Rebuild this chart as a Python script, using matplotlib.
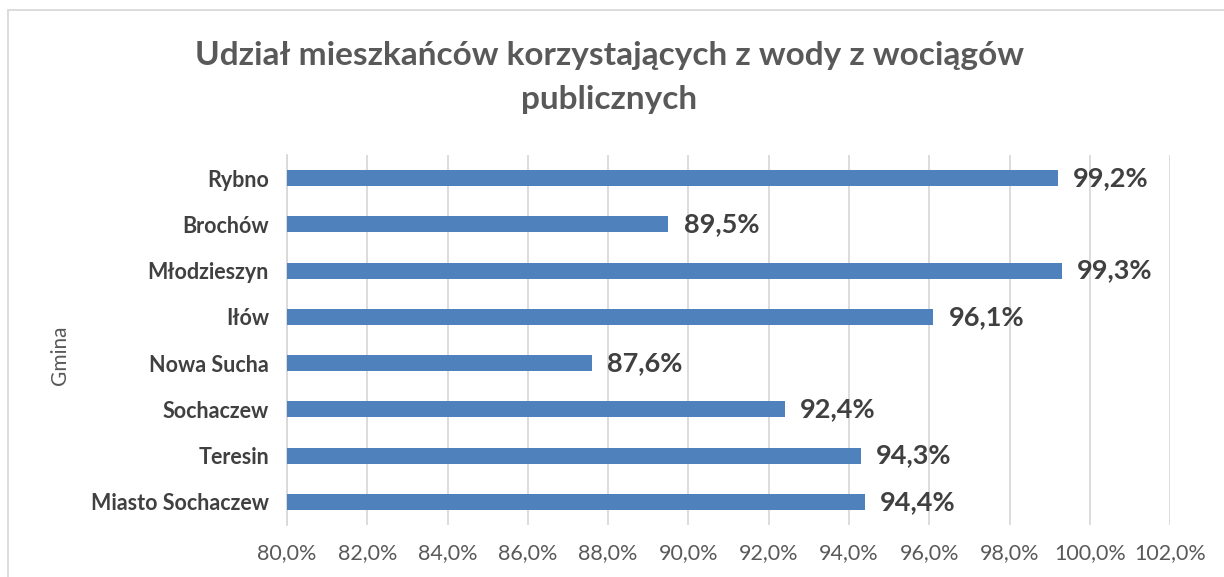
import matplotlib.pyplot as plt
from matplotlib.patches import Rectangle

plt.rcParams["font.family"] = ["Lato", "DejaVu Sans"]

gminy = ["Miasto Sochaczew", "Teresin", "Sochaczew", "Nowa Sucha",
         "Iłów", "Młodzieszyn", "Brochów", "Rybno"]
udzial = [94.4, 94.3, 92.4, 87.6, 96.1, 99.3, 89.5, 99.2]
xticks = [80, 82, 84, 86, 88, 90, 92, 94, 96, 98, 100, 102]

fig = plt.figure(figsize=(12.24, 5.77), dpi=100)
ax = fig.add_axes([0.2345, 0.0901, 0.7215, 0.6413])

pos = range(len(gminy))
ax.barh(pos, [v - 80 for v in udzial], left=80, height=0.35, color="#4F81BD", zorder=3)

for i, v in zip(pos, udzial):
    ax.text(v + 0.38, i, f"{v:.1f}%".replace(".", ","), va="center", ha="left",
            fontsize=19.5, fontweight="bold", color="#404040")

ax.set_xlim(80, 102)
ax.set_ylim(-0.5, len(gminy) - 0.5)
ax.set_xticks(xticks)
ax.set_xticklabels([f"{t:.1f}%".replace(".", ",") for t in xticks], fontsize=15.5, color="#595959")
ax.set_yticks(list(pos))
ax.set_yticklabels(gminy, fontsize=15.5, fontweight="bold", color="#404040")
ax.tick_params(length=0)
ax.tick_params(axis="y", pad=13)
ax.tick_params(axis="x", pad=13)
ax.grid(axis="x", color="#D9D9D9", linewidth=1.3, zorder=0)
for s in ["top", "right", "bottom"]:
    ax.spines[s].set_visible(False)
ax.spines["left"].set_color("#D9D9D9")
ax.spines["left"].set_linewidth(1.3)

fig.text(0.049, 0.385, "Gmina", rotation=90, fontsize=15, color="#595959", ha="center", va="center")
fig.text(0.498, 0.866, "Udział mieszkańców korzystających z wody z wociągów\npublicznych",
         ha="center", va="center", fontsize=24, fontweight="bold", color="#595959", linespacing=1.6)

fig.patches.append(Rectangle((8 / 1224, -0.1), 1.2, 1 - 10 / 577 + 0.1, transform=fig.transFigure,
                             fill=False, edgecolor="#D9D9D9", linewidth=1.3))

fig.savefig("out.png", dpi=100)
